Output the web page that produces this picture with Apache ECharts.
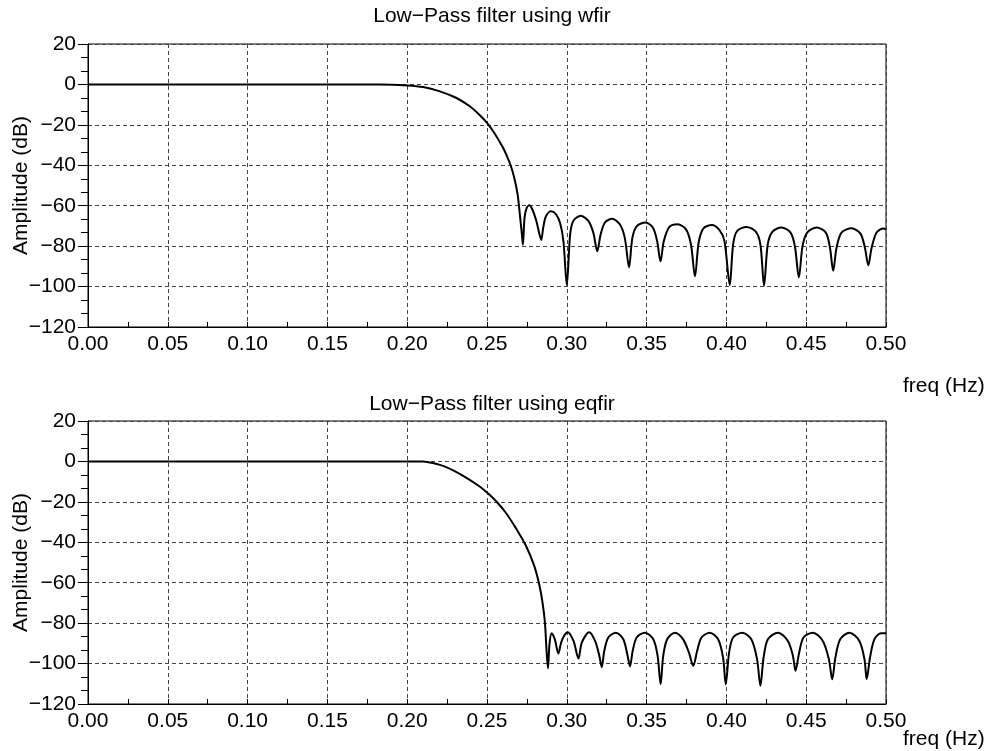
<!DOCTYPE html>
<html>
<head>
<meta charset="utf-8">
<title>Low-Pass filter responses</title>
<script src="https://cdn.jsdelivr.net/npm/echarts@6/dist/echarts.min.js"></script>
<style>
  html, body { margin: 0; padding: 0; background: #fff; }
  #chart { width: 994px; height: 751px; }
</style>
</head>
<body>
<div id="chart"></div>
<script>
// Magnitude response of the window-method design (wfir)
const freqWfir = [
  0.000, 0.100, 0.183, 0.200, 0.210, 0.220, 0.2306, 0.239, 0.2452, 0.250,
  0.2546, 0.2598, 0.2625, 0.265, 0.2671, 0.2692, 0.2706, 0.2719, 0.2725, 0.2735, 0.2748,
  0.2765, 0.2785, 0.281, 0.2827, 0.284, 0.2852, 0.2869, 0.290, 0.2931, 0.2958,
  0.2979, 0.3000, 0.3021, 0.3041, 0.3087, 0.3135, 0.3166, 0.3191, 0.3212, 0.3239,
  0.3284, 0.3332, 0.3363, 0.339, 0.3411, 0.344, 0.3494, 0.3539, 0.3566, 0.3587,
  0.3608, 0.3643, 0.3695, 0.3747, 0.3778, 0.3803, 0.3826, 0.3855, 0.3909, 0.3958,
  0.3988, 0.4021, 0.4042, 0.4067, 0.4126, 0.4184, 0.4213, 0.4236, 0.4259, 0.4289,
  0.4345, 0.4402, 0.4429, 0.4454, 0.4477, 0.4506, 0.4565, 0.4623, 0.4649, 0.4669,
  0.469, 0.4721, 0.4784, 0.484, 0.4868, 0.4889, 0.491, 0.4941, 0.4983, 0.500
];
const ampWfir = [
  0, 0, 0, -0.5, -1.3, -3.3, -6.6, -10.7, -15.0, -19,
  -24, -31, -35.5, -40.5, -46.3, -54.5, -64.5, -74.4, -79.3, -66.1, -61.2,
  -59.8, -62, -67.8, -73.6, -76.9, -71, -65.3, -62.8, -64.1, -68.6,
  -77.7, -99.2, -74.2, -67.5, -65, -67.5, -73.3, -82.5, -74.2, -68.3,
  -66.5, -69.2, -75.8, -90.5, -75.8, -70, -68.3, -70.8, -77.5, -87.5,
  -77.5, -70.5, -69.2, -71.7, -79.2, -95, -78.3, -71.3, -69.5, -72.2,
  -77.5, -99.2, -79.2, -72.5, -70.5, -72.8, -79.2, -99.5, -79.2, -72.8,
  -70.8, -73.3, -80, -95.5, -80, -73.3, -70.8, -73.3, -80.8, -92.2,
  -80.8, -73.3, -71.2, -73.8, -80.8, -89.5, -80.8, -73.3, -71.3, -71.7
];

// Magnitude response of the equiripple design (eqfir)
const freqEqfir = [
  0.000, 0.100, 0.210, 0.216, 0.2244, 0.2348, 0.2452, 0.250, 0.2556, 0.2619,
  0.2681, 0.2744, 0.2796, 0.2827, 0.2848, 0.2863, 0.2872, 0.2882, 0.2892, 0.2905,
  0.2925, 0.2947, 0.2965, 0.2985, 0.3005, 0.3042, 0.3073, 0.3094, 0.3140, 0.3177,
  0.3204, 0.3219, 0.3235, 0.326, 0.3308, 0.3354, 0.3379, 0.3396, 0.3413, 0.3438,
  0.349, 0.3542, 0.3569, 0.3588, 0.3604, 0.3629, 0.3677, 0.3729, 0.3765, 0.3792,
  0.3817, 0.3844, 0.3896, 0.3948, 0.3979, 0.3996, 0.4017, 0.4042, 0.410, 0.4156,
  0.4192, 0.4213, 0.4233, 0.426, 0.4323, 0.4385, 0.4417, 0.4433, 0.4454, 0.4483,
  0.4542, 0.4604, 0.4642, 0.4663, 0.4683, 0.4713, 0.4771, 0.4833, 0.4865, 0.4879,
  0.490, 0.4927, 0.4969, 0.500
];
const ampEqfir = [
  0, 0, 0, -0.8, -2.8, -7, -12.3, -15.4, -19.6, -25.5,
  -33, -41.7, -51.7, -60.8, -69.9, -79.8, -92, -102.3, -90, -85,
  -88, -95, -89.5, -86, -84.5, -88.8, -97.5, -89.6, -84.5, -88.8,
  -96.2, -101.8, -93.7, -87.1, -84.7, -88, -95.4, -101.4, -93.7, -87.1,
  -84.7, -88, -96.2, -110.2, -96.2, -88, -84.7, -88, -94.5, -101.1,
  -93.7, -87.1, -84.7, -88, -97, -110.2, -94.5, -87.1, -84.7, -88,
  -97.8, -111, -97, -88, -84.7, -88.8, -96.2, -103.6, -95.4, -87.1,
  -84.7, -88.8, -97.8, -107.7, -97, -88, -84.7, -88.8, -97.8, -107.7,
  -97, -88, -85, -85
];

// Axis ticks
const freqTicks = [0.00, 0.05, 0.10, 0.15, 0.20, 0.25, 0.30, 0.35, 0.40, 0.45, 0.50];
const ampTicks = [20, 0, -20, -40, -60, -80, -100, -120];

const titles = ['Low\u2212Pass filter using wfir', 'Low\u2212Pass filter using eqfir'];
const xName = 'freq (Hz)';
const yName = 'Amplitude (dB)';

const FONT = '"Liberation Sans", Arial, Helvetica, sans-serif';
const FS = 21;
const pairs = (xs, ys) => xs.map((x, i) => [x, ys[i]]);
const fmtMinus = v => (v < 0 ? '\u2212' + Math.abs(v) : String(v));

const grids = [
  { left: 88, top: 44, width: 798, height: 283 },
  { left: 88, top: 421, width: 798, height: 283 }
];

function xAxisFor(idx) {
  return {
    type: 'value', gridIndex: idx,
    min: freqTicks[0], max: freqTicks[freqTicks.length - 1],
    interval: freqTicks[1] - freqTicks[0],
    axisLine: { show: true, onZero: false, lineStyle: { color: '#000', width: 1 } },
    axisTick: { show: true, inside: true, length: 5, lineStyle: { color: '#000' } },
    minorTick: { show: true, splitNumber: 2, length: 5, lineStyle: { color: '#000' } },
    axisLabel: {
      color: '#000', fontSize: FS, fontFamily: FONT, margin: 7,
      formatter: v => v.toFixed(2), showMaxLabel: true, showMinLabel: true
    },
    splitLine: { show: true, lineStyle: { color: '#444', width: 1, type: [4, 3] } }
  };
}

function yAxisFor(idx) {
  return {
    type: 'value', gridIndex: idx,
    min: ampTicks[ampTicks.length - 1], max: ampTicks[0],
    interval: ampTicks[0] - ampTicks[1],
    name: yName, nameLocation: 'middle', nameGap: 56, nameRotate: 90,
    nameMoveOverlap: false,
    nameTextStyle: { color: '#000', fontSize: FS, fontFamily: FONT },
    axisLine: { show: true, onZero: false, lineStyle: { color: '#000', width: 1 } },
    axisTick: { show: true, inside: false, length: 10, lineStyle: { color: '#000' } },
    minorTick: { show: true, splitNumber: 3, length: 7, lineStyle: { color: '#000' } },
    axisLabel: {
      color: '#000', fontSize: FS, fontFamily: FONT, margin: 12,
      formatter: fmtMinus
    },
    splitLine: { show: true, lineStyle: { color: '#444', width: 1, type: [4, 3] } }
  };
}

function seriesFor(idx, data) {
  return {
    type: 'line', xAxisIndex: idx, yAxisIndex: idx,
    data: data, showSymbol: false, symbol: 'none',
    smooth: 0.3,
    lineStyle: { color: '#000', width: 2 },
    z: 5, silent: true, animation: false
  };
}

const chart = echarts.init(document.getElementById('chart'), null, { renderer: 'canvas' });
chart.setOption({
  backgroundColor: '#fff',
  animation: false,
  title: [
    { text: titles[0], left: 487, top: 1, textAlign: 'center',
      textStyle: { color: '#000', fontSize: FS, fontWeight: 'normal', fontFamily: FONT } },
    { text: titles[1], left: 487, top: 389, textAlign: 'center',
      textStyle: { color: '#000', fontSize: FS, fontWeight: 'normal', fontFamily: FONT } }
  ],
  grid: grids.map(g => Object.assign({
    show: true, borderColor: '#000', borderWidth: 1, backgroundColor: 'transparent',
    containLabel: false, outerBoundsMode: 'none'
  }, g)),
  xAxis: [xAxisFor(0), xAxisFor(1)],
  yAxis: [yAxisFor(0), yAxisFor(1)],
  series: [seriesFor(0, pairs(freqWfir, ampWfir)), seriesFor(1, pairs(freqEqfir, ampEqfir))],
  graphic: [
    { type: 'text', left: 903, top: 376,
      style: { text: xName, fill: '#000', font: FS + 'px ' + FONT } },
    { type: 'text', left: 903, top: 729,
      style: { text: xName, fill: '#000', font: FS + 'px ' + FONT } }
  ]
});
</script>
</body>
</html>
